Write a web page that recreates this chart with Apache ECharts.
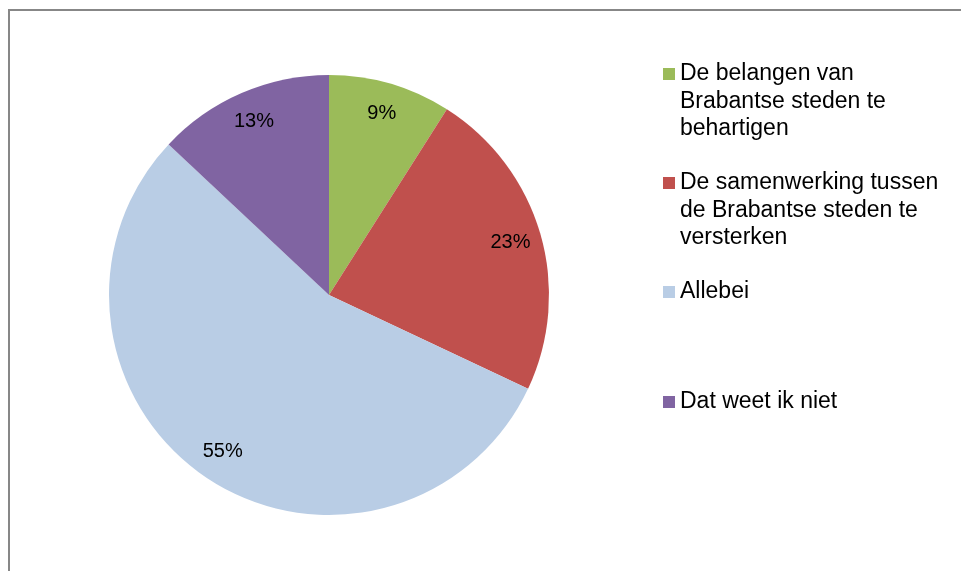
<!DOCTYPE html>
<html>
<head>
<meta charset="utf-8">
<script src="https://cdn.jsdelivr.net/npm/echarts@6/dist/echarts.min.js"></script>
<style>
  html, body { margin: 0; padding: 0; background: #ffffff; }
  #chart { width: 961px; height: 571px; }
</style>
</head>
<body>
<div id="chart"></div>
<script>
// Survey answers and their shares (percent)
const categories = [
  'De belangen van Brabantse steden te behartigen',
  'De samenwerking tussen de Brabantse steden te versterken',
  'Allebei',
  'Dat weet ik niet'
];
const shares = [9, 23, 55, 13];
const sliceColors = ['#9BBB59', '#C0504D', '#B9CDE5', '#8064A2'];

// Vertical centre of each legend entry's first text line
const legendRowY = [74, 183, 292, 402];

const LEGEND_FONT = 'Liberation Sans, Arial, sans-serif';
const LEGEND_SIZE = 23;
const LEGEND_LINE = 27.5;
const LEGEND_WRAP = 270;

const chart = echarts.init(document.getElementById('chart'), null, { renderer: 'canvas' });

const PIE_CENTER = [329, 295];
const PIE_RADIUS = 220;

// Count wrapped lines of a legend label (greedy word wrap)
const measureCtx = document.createElement('canvas').getContext('2d');
measureCtx.font = LEGEND_SIZE + 'px ' + LEGEND_FONT;
function wrappedLineCount(text) {
  const words = text.split(' ');
  let lines = 1;
  let current = '';
  words.forEach(function (w) {
    const trial = current ? current + ' ' + w : w;
    if (current && measureCtx.measureText(trial).width > LEGEND_WRAP) {
      lines++;
      current = w;
    } else {
      current = trial;
    }
  });
  return lines;
}

// The legend text block is centred on its icon box, so the coloured square
// is placed inside a tall icon box at the height of the first text line.
const ICON_H = 100;
const ICON_W = 12;
const SQUARE = 12;

const legends = categories.map(function (name, i) {
  const n = wrappedLineCount(name);
  const squareCenter = ICON_H / 2 - (n - 1) * LEGEND_LINE / 2;
  const squareTop = squareCenter - SQUARE / 2;
  const icon = 'path://M0,0M' + ICON_W + ',' + ICON_H +
    'M0,' + squareTop + 'h' + SQUARE + 'v' + SQUARE + 'h-' + SQUARE + 'z';
  return {
    orient: 'vertical',
    left: 663,
    top: legendRowY[i] - squareCenter,
    padding: 0,
    itemWidth: ICON_W,
    itemHeight: ICON_H,
    icon: icon,
    selectedMode: false,
    data: [name],
    itemStyle: { borderWidth: 0 },
    textStyle: {
      fontFamily: LEGEND_FONT,
      fontSize: LEGEND_SIZE,
      color: '#000000',
      lineHeight: LEGEND_LINE,
      width: LEGEND_WRAP,
      overflow: 'break'
    }
  };
});

const pieData = categories.map(function (name, i) {
  return { name: name, value: shares[i], itemStyle: { color: sliceColors[i] } };
});

// Transparent ring on top of the pie that carries the percentage labels
const labelRingData = categories.map(function (name, i) {
  return { name: name, value: shares[i] };
});

chart.setOption({
  backgroundColor: '#ffffff',
  animation: false,
  legend: legends,
  graphic: [{
    type: 'rect',
    silent: true,
    shape: { x: 9, y: 10, width: 1000, height: 1000 },
    style: { fill: 'none', stroke: '#878787', lineWidth: 2 }
  }],
  series: [
    {
      type: 'pie',
      center: PIE_CENTER,
      radius: PIE_RADIUS,
      startAngle: 90,
      clockwise: true,
      data: pieData,
      itemStyle: { borderWidth: 0 },
      label: { show: false },
      labelLine: { show: false },
      emphasis: { disabled: true }
    },
    {
      type: 'pie',
      center: PIE_CENTER,
      radius: [152, PIE_RADIUS],
      startAngle: 90,
      clockwise: true,
      silent: true,
      data: labelRingData,
      itemStyle: { color: 'rgba(0,0,0,0)', borderWidth: 0 },
      label: {
        show: true,
        position: 'inside',
        formatter: '{c}%',
        fontFamily: 'Liberation Sans, Arial, sans-serif',
        fontSize: 20,
        color: '#000000'
      },
      labelLine: { show: false },
      emphasis: { disabled: true }
    }
  ]
});
</script>
</body>
</html>
